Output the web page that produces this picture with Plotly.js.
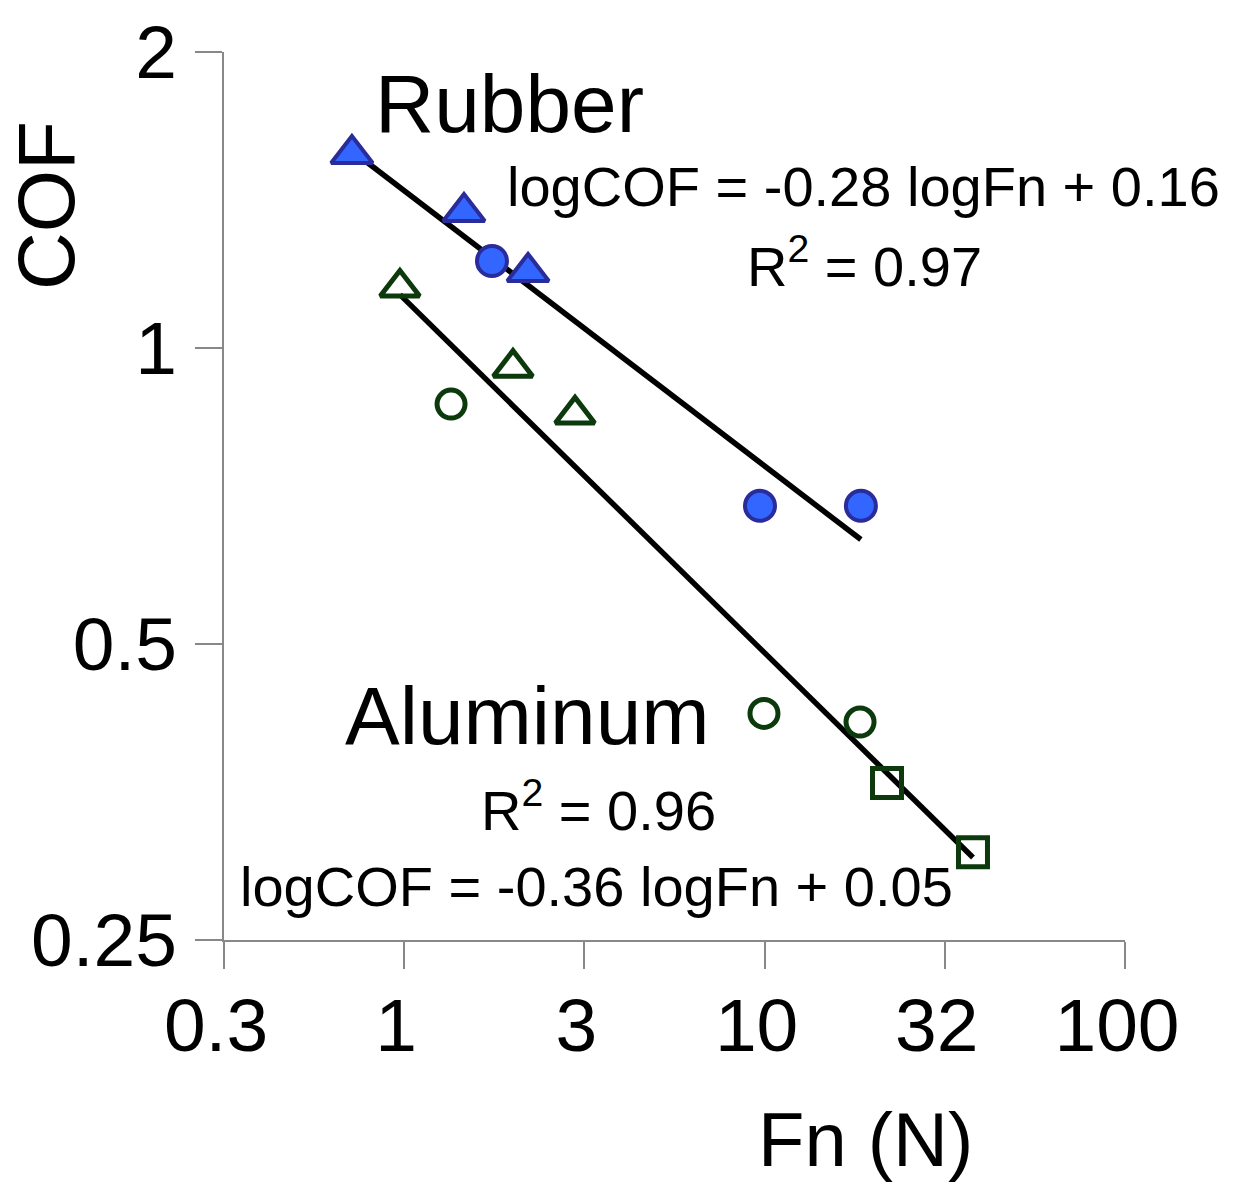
<!DOCTYPE html>
<html>
<head>
<meta charset="utf-8">
<script src="https://cdn.plot.ly/plotly-3.0.1.min.js"></script>
<style>html,body{margin:0;padding:0;background:#fff;}#chart{width:1240px;height:1186px;}</style>
</head>
<body>
<div id="chart"></div>
<script>
// ---- data ----
var rubberTriFn  = [0.716, 1.465, 2.206];
var rubberTriCOF = [1.575, 1.375, 1.195];
var rubberCircFn  = [1.752, 9.71, 18.5];
var rubberCircCOF = [1.226, 0.691, 0.691];

var alTriFn  = [0.973, 2.004, 2.978];
var alTriCOF = [1.152, 0.955, 0.856];
var alCircFn  = [1.349, 9.96, 18.4];
var alCircCOF = [0.877, 0.425, 0.4165];
var alSqFn  = [21.86, 37.86];
var alSqCOF = [0.361, 0.307];

// fitted power laws shown on the chart: logCOF = slope*logFn + intercept
var rubberFit = {slope: -0.28, intercept: 0.16, r2: 0.97};
var alFit     = {slope: -0.36, intercept: 0.05, r2: 0.96};

var xTickVals = [Math.sqrt(0.1), 1, Math.sqrt(10), 10, Math.sqrt(1000), 100];
var xTickText = ['0.3', '1', '3', '10', '32', '100'];
var yTickVals = [0.25, 0.5, 1, 2];
var yTickText = ['0.25', '0.5', '1', '2'];

// ---- helpers ----
function fitLine(fnArrays, fit) {
  var all = [].concat.apply([], fnArrays);
  var lo = Math.min.apply(null, all), hi = Math.max.apply(null, all);
  var xs = [lo, hi];
  var ys = xs.map(function (x) { return Math.pow(10, fit.slope * Math.log10(x) + fit.intercept); });
  return {x: xs, y: ys};
}

var BLUE_FILL = '#3366FF', BLUE_LINE = '#2A2C9C', GREEN = '#0C3A0C';
var FONT = 'Liberation Sans, Arial, Helvetica, sans-serif';

var rl = fitLine([rubberTriFn, rubberCircFn], rubberFit);
var al = fitLine([alTriFn, alCircFn, alSqFn], alFit);

var traces = [
  {x: rl.x, y: rl.y, mode: 'lines', line: {color: '#000', width: 5.5}, hoverinfo: 'skip'},
  {x: al.x, y: al.y, mode: 'lines', line: {color: '#000', width: 5.5}, hoverinfo: 'skip'},
  {x: rubberTriFn, y: rubberTriCOF, mode: 'markers',
   marker: {symbol: 'triangle-up', size: 36, color: BLUE_FILL, line: {color: BLUE_LINE, width: 4}}},
  {x: rubberCircFn, y: rubberCircCOF, mode: 'markers',
   marker: {symbol: 'circle', size: 30, color: BLUE_FILL, line: {color: BLUE_LINE, width: 4}}},
  {x: alTriFn, y: alTriCOF, mode: 'markers',
   marker: {symbol: 'triangle-up-open', size: 34, color: GREEN, line: {color: GREEN, width: 5}}},
  {x: alCircFn, y: alCircCOF, mode: 'markers',
   marker: {symbol: 'circle-open', size: 28, color: GREEN, line: {color: GREEN, width: 5}}},
  {x: alSqFn, y: alSqCOF, mode: 'markers',
   marker: {symbol: 'square-open', size: 29, color: GREEN, line: {color: GREEN, width: 5}}}
];

function fmt(v) { return (v < 0 ? '-' : '') + Math.abs(v).toFixed(2); }
function eqText(fit) { return 'logCOF = ' + fmt(fit.slope) + ' logFn + ' + fmt(fit.intercept); }
function r2Text(fit) { return 'R<sup>2</sup> = ' + fit.r2.toFixed(2); }

function ann(text, x, y, size, extra) {
  var a = {text: text, x: x, y: y, xref: 'paper', yref: 'paper', showarrow: false,
           xanchor: 'center', yanchor: 'middle', font: {family: FONT, size: size, color: '#000'}};
  if (extra) for (var k in extra) a[k] = extra[k];
  return a;
}

var annotations = [
  ann('Rubber', 0.3174, 0.9415, 82),
  ann(eqText(rubberFit), 0.7103, 0.848, 56),
  ann(r2Text(rubberFit), 0.7114, 0.763, 56),
  ann('Aluminum', 0.3374, 0.2523, 82),
  ann(r2Text(alFit), 0.4162, 0.150, 56),
  ann(eqText(alFit), 0.4129, 0.0597, 56),
  ann('COF', -0.1976, 0.8277, 80, {textangle: -90}),
  ann('Fn (N)', 0.7125, -0.2252, 76)
];

var axisCommon = {
  type: 'log', showgrid: false, zeroline: false, showline: true,
  linecolor: '#888', linewidth: 2, ticks: 'outside', ticklen: 27, tickwidth: 2,
  tickcolor: '#888', tickmode: 'array',
  tickfont: {family: FONT, size: 75, color: '#000'}
};

var layout = {
  width: 1240, height: 1186,
  margin: {l: 224, r: 115, t: 52, b: 246, pad: 0},
  paper_bgcolor: '#fff', plot_bgcolor: '#fff',
  showlegend: false,
  xaxis: Object.assign({}, axisCommon, {
    range: [Math.log10(xTickVals[0]), Math.log10(xTickVals[xTickVals.length - 1])],
    tickvals: xTickVals, ticktext: xTickText, ticklabelstandoff: -8, ticklabelshift: -8
  }),
  yaxis: Object.assign({}, axisCommon, {
    range: [Math.log10(yTickVals[0]), Math.log10(yTickVals[yTickVals.length - 1])],
    tickvals: yTickVals, ticktext: yTickText, ticklabelstandoff: 3
  }),
  annotations: annotations
};

Plotly.newPlot('chart', traces, layout, {displayModeBar: false, staticPlot: true});
</script>
</body>
</html>
